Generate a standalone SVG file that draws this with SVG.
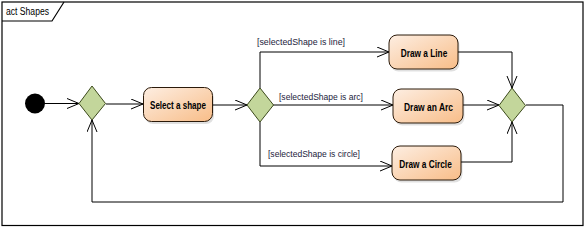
<svg xmlns="http://www.w3.org/2000/svg" width="588" height="227" viewBox="0 0 588 227">
<defs>
<linearGradient id="act" x1="0" y1="0" x2="1" y2="1">
<stop offset="0" stop-color="#FDEEE2"/>
<stop offset="1" stop-color="#F8BD88"/>
</linearGradient>
<marker id="arr" markerUnits="userSpaceOnUse" markerWidth="14" markerHeight="12" refX="13" refY="5.5" orient="auto">
<path d="M1,0.5 L13,5.5 L1,10.5" fill="none" stroke="#000" stroke-width="1"/>
</marker>
</defs>
<style>
.frame{fill:none;stroke:#000;stroke-width:1.2}
.box{fill:url(#act);stroke:#2b1a0a;stroke-width:1}
.shadow{fill:#000;opacity:0.12}
.dia{fill:#C3D69B;stroke:#3c4a1c;stroke-width:1}
.lbl{font-family:"Liberation Sans",Arial,sans-serif;font-size:10px;font-weight:bold;fill:#000;text-anchor:middle}
.grd{font-family:"Liberation Sans",Arial,sans-serif;font-size:9.5px;fill:#1c1c3c}
.con{fill:none;stroke:#000;stroke-width:1}
.ttl{font-family:"Liberation Sans",Arial,sans-serif;font-size:10px;fill:#000}
</style>
<rect width="588" height="227" fill="#fff"/>
<g id="frame">
<rect class="frame" x="2" y="2" width="581" height="223.5"/>
<path class="frame" d="M2,21 L52,21 L64,2"/>
<text class="ttl" x="6" y="15" textLength="43" lengthAdjust="spacingAndGlyphs">act Shapes</text>
</g>
<g id="connectors">
<path class="con" d="M45,103.5 L79,103.5" marker-end="url(#arr)"/>
<path class="con" d="M106,104 L143,104" marker-end="url(#arr)"/>
<path class="con" d="M212,105 L247,105" marker-end="url(#arr)"/>
<path class="con" d="M260,88 L260,52 L389,52" marker-end="url(#arr)"/>
<path class="con" d="M273,105 L393,105" marker-end="url(#arr)"/>
<path class="con" d="M260,122 L260,166 L392,166" marker-end="url(#arr)"/>
<path class="con" d="M458,52 L512,52 L512,88" marker-end="url(#arr)"/>
<path class="con" d="M463,105 L499,105" marker-end="url(#arr)"/>
<path class="con" d="M461,162 L512,162 L512,122" marker-end="url(#arr)"/>
<path class="con" d="M526,105 L563,105 L563,202 L92,202 L92,120" marker-end="url(#arr)"/>
<text class="grd" x="257" y="45" textLength="88" lengthAdjust="spacingAndGlyphs">[selectedShape is line]</text>
<text class="grd" x="279" y="100" textLength="84" lengthAdjust="spacingAndGlyphs">[selectedShape is arc]</text>
<text class="grd" x="268" y="157" textLength="92" lengthAdjust="spacingAndGlyphs">[selectedShape is circle]</text>
</g>
<g id="initial">
<circle cx="35" cy="103.5" r="10" fill="#000"/>
</g>
<g id="merge1">
<path class="dia" d="M92,86 L105.5,103.5 L92,120 L79,103.5 Z"/>
</g>
<g id="selectShape">
<rect class="shadow" x="145" y="89.5" width="69" height="34.5" rx="8"/>
<rect class="box" x="143.5" y="87.5" width="69" height="34" rx="8"/>
<text class="lbl" x="178" y="109" textLength="56" lengthAdjust="spacingAndGlyphs">Select a shape</text>
</g>
<g id="decision">
<path class="dia" d="M260,88 L273.5,105 L260,122 L247,105 Z"/>
</g>
<g id="drawLine">
<rect class="shadow" x="390.5" y="37" width="69" height="34.5" rx="8"/>
<rect class="box" x="389" y="35" width="69" height="34" rx="8"/>
<text class="lbl" x="424" y="56.5" textLength="46.5" lengthAdjust="spacingAndGlyphs">Draw a Line</text>
</g>
<g id="drawArc">
<rect class="shadow" x="394.5" y="91" width="70" height="34.5" rx="8"/>
<rect class="box" x="393" y="89" width="70" height="34" rx="8"/>
<text class="lbl" x="428.5" y="110.5" textLength="49" lengthAdjust="spacingAndGlyphs">Draw an Arc</text>
</g>
<g id="drawCircle">
<rect class="shadow" x="393.5" y="148" width="69" height="34.5" rx="8"/>
<rect class="box" x="392" y="146" width="69" height="34" rx="8"/>
<text class="lbl" x="425.5" y="167.5" textLength="52.5" lengthAdjust="spacingAndGlyphs">Draw a Circle</text>
</g>
<g id="merge2">
<path class="dia" d="M512,88 L525.5,105.5 L512,122 L499,105.5 Z"/>
</g>
</svg>
